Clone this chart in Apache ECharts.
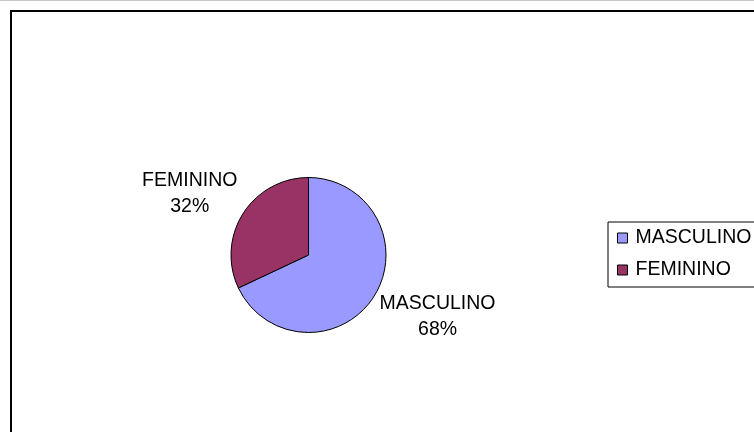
<!DOCTYPE html>
<html>
<head>
<meta charset="utf-8">
<script src="https://cdn.jsdelivr.net/npm/echarts@6/dist/echarts.min.js"></script>
<style>
  html, body { margin: 0; padding: 0; background: #fff; }
  #chart { width: 754px; height: 432px; }
</style>
</head>
<body>
<div id="chart"></div>
<script>
const categories = ["MASCULINO", "FEMININO"];
const percentages = [68, 32];
const colors = ["#9999FF", "#993366"];

const chart = echarts.init(document.getElementById("chart"));
const fontFamily = "'Liberation Sans', Arial, sans-serif";

chart.setOption({
  animation: false,
  color: colors,
  graphic: [
    {
      type: "line",
      shape: { x1: 0, y1: 0.5, x2: 754, y2: 0.5 },
      style: { stroke: "#c8c8c8", lineWidth: 1 },
      silent: true
    },
    {
      type: "rect",
      shape: { x: 11, y: 11, width: 900, height: 600 },
      style: { fill: "none", stroke: "#000", lineWidth: 2 },
      silent: true
    }
  ],
  legend: {
    orient: "vertical",
    left: 608,
    top: 222,
    data: categories,
    icon: "rect",
    itemWidth: 10,
    itemHeight: 10,
    itemGap: 12,
    padding: [6, 30, 7, 9],
    borderColor: "#000",
    borderWidth: 1,
    itemStyle: { borderColor: "#000", borderWidth: 1 },
    textStyle: {
      fontFamily: fontFamily,
      fontSize: 19.5,
      color: "#000",
      padding: [0, 0, 0, 3]
    }
  },
  series: [
    {
      type: "pie",
      center: [308.5, 255],
      radius: 77.5,
      startAngle: 90,
      clockwise: true,
      avoidLabelOverlap: false,
      data: categories.map((name, i) => ({ name: name, value: percentages[i] })),
      itemStyle: { borderColor: "#000", borderWidth: 1 },
      emphasis: { disabled: true },
      label: {
        show: true,
        position: "outside",
        formatter: "{b}\n{d}%",
        fontFamily: fontFamily,
        fontSize: 19.5,
        lineHeight: 26,
        color: "#000",
        distanceToLabelLine: -26
      },
      labelLine: { show: false, length: 37.5, length2: 0 },
      // keep the block where the pie put it, but centre its lines
      labelLayout: function (params) {
        const r = params.labelRect;
        return { x: r.x + r.width / 2, align: "center" };
      }
    }
  ]
});
</script>
</body>
</html>
